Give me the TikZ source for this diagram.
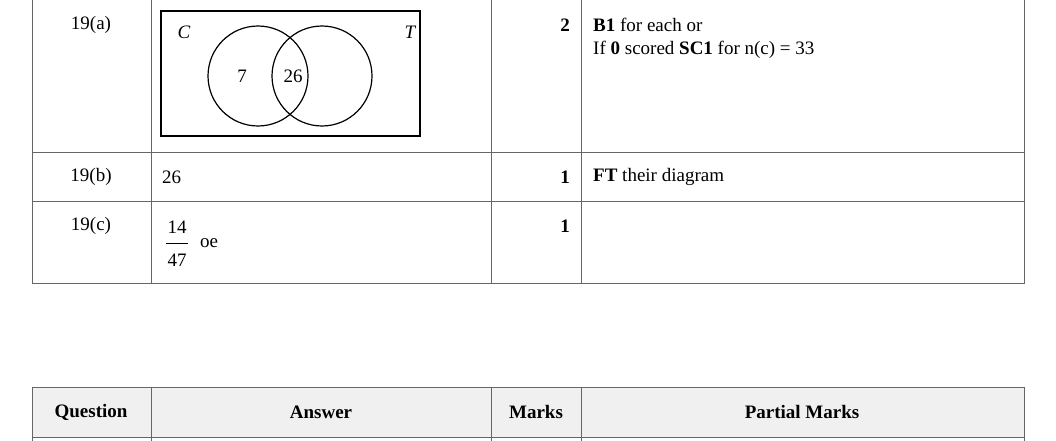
\documentclass[tikz,border=0pt]{standalone}
\usepackage{fontspec}
\setmainfont{Liberation Serif}
\tikzset{
  grid/.style={draw=black!60, line width=1pt},
  txt/.style={anchor=west, inner sep=0pt, font=\fontsize{19}{23}\selectfont},
  mid/.style={inner sep=0pt, font=\fontsize{19}{23}\selectfont},
  score/.style={anchor=east, inner sep=0pt, font=\bfseries\fontsize{19}{23}\selectfont},
  venn/.style={draw, line width=1.2pt}
}
\begin{document}
\begin{tikzpicture}[x=1pt,y=-1pt]
  \useasboundingbox (0,0) rectangle (1056,441);
  % upper table
  \draw[grid] (32,0) -- (32,283) -- (1024,283) -- (1024,0);
  \draw[grid] (32,152) -- (1024,152);
  \draw[grid] (32,201) -- (1024,201);
  \foreach \x in {151,491,581} \draw[grid] (\x,0) -- (\x,283);
  % lower table
  \fill[black!6] (32,387) rectangle (1024,437);
  \draw[grid] (32,441) -- (32,387) -- (1024,387) -- (1024,441);
  \draw[grid] (32,437) -- (1024,437);
  \foreach \x in {151,491,581} \draw[grid] (\x,387) -- (\x,441);
  % venn diagram
  \draw[venn] (161,11) rectangle (420,136);
  \draw[venn] (258,76) circle (50);
  \draw[venn] (322,76) circle (50);
  \node[mid, font=\itshape\fontsize{19}{23}\selectfont] (c) at (184,32) {C};
  \node[mid, font=\itshape\fontsize{19}{23}\selectfont] (t) at (410,32) {T};
  \node[mid] (seven) at (242,76) {7};
  \node[mid] (both) at (293,76) {26};
  % rows
  \node[mid] (qa) at (91,25) {19(a)};
  \node[score] (ma) at (570,25) {2};
  \node[txt] (pa1) at (593,25) {\textbf{B1} for each or};
  \node[txt] (pa2) at (593,50) {If \textbf{0} scored \textbf{SC1} for n(c) = 33};
  \node[mid] (qb) at (91,177) {19(b)};
  \node[txt] (ab) at (162,177) {26};
  \node[score] (mb) at (570,177) {1};
  \node[txt] (pb) at (593,177) {\textbf{FT} their diagram};
  \node[mid] (qc) at (91,226) {19(c)};
  \node[mid] (num) at (177,227) {14};
  \node[mid] (den) at (177,260) {47};
  \draw[line width=1pt] (166,243) -- (188,243);
  \node[txt] (oe) at (200,243) {oe};
  \node[score] (mc) at (570,226) {1};
  % header
  \node[mid, font=\bfseries\fontsize{19}{23}\selectfont] (h1) at (91,412) {Question};
  \node[mid, font=\bfseries\fontsize{19}{23}\selectfont] (h2) at (321,412) {Answer};
  \node[mid, font=\bfseries\fontsize{19}{23}\selectfont] (h3) at (536,412) {Marks};
  \node[mid, font=\bfseries\fontsize{19}{23}\selectfont] (h4) at (802,412) {Partial Marks};
\end{tikzpicture}
\end{document}
